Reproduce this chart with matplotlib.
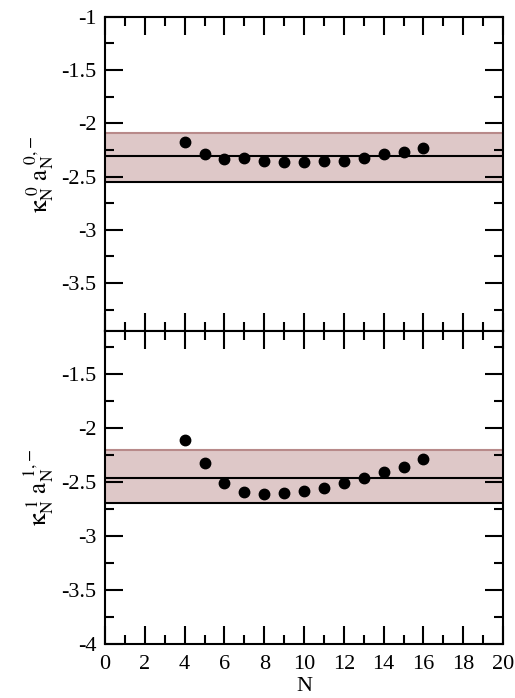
import matplotlib
matplotlib.use("Agg")
import matplotlib.pyplot as plt
from matplotlib.ticker import MultipleLocator, FormatStrFormatter

plt.rcParams['font.family'] = ['Liberation Serif', 'DejaVu Serif']
plt.rcParams['mathtext.fontset'] = 'stix'
plt.rcParams['axes.unicode_minus'] = False

# data
N = [4, 5, 6, 7, 8, 9, 10, 11, 12, 13, 14, 15, 16]
a0 = [-2.18, -2.29, -2.34, -2.33, -2.355, -2.365, -2.365, -2.357, -2.35, -2.33, -2.29, -2.266, -2.233]
a1 = [-2.107, -2.322, -2.504, -2.593, -2.612, -2.602, -2.58, -2.553, -2.51, -2.464, -2.408, -2.356, -2.289]

# fit value and error band
fit0, lo0, hi0 = -2.305, -2.555, -2.09
fit1, lo1, hi1 = -2.46, -2.695, -2.20

band_color = '#dec8c8'
edge_color = '#b88a8a'

fig = plt.figure(figsize=(5.15, 6.98), dpi=100)
ax0 = fig.add_axes([0.2039, 0.5258, 0.7728, 0.4503])
ax1 = fig.add_axes([0.2039, 0.0774, 0.7728, 0.4484])


def style(ax, ylim, show_x):
    ax.set_xlim(0, 20)
    ax.set_ylim(*ylim)
    ax.xaxis.set_major_locator(MultipleLocator(2))
    ax.xaxis.set_minor_locator(MultipleLocator(1))
    ax.yaxis.set_major_locator(MultipleLocator(0.5))
    ax.yaxis.set_minor_locator(MultipleLocator(0.25))
    ax.yaxis.set_major_formatter(FormatStrFormatter('%g'))
    ax.tick_params(which='both', direction='in', top=True, right=True, width=1.5)
    ax.tick_params(which='major', length=13, labelsize=16, pad=6)
    ax.tick_params(axis='x', which='major', pad=8)
    ax.tick_params(which='minor', length=6.5)
    if not show_x:
        ax.tick_params(axis='x', labelbottom=False)
    for s in ax.spines.values():
        s.set_linewidth(1.5)


def panel(ax, y, fit, lo, hi):
    ax.axhspan(lo, hi, facecolor=band_color, edgecolor='none', zorder=1)
    ax.axhline(hi, color=edge_color, lw=1.5, zorder=2)
    ax.axhline(lo, color='black', lw=1.5, zorder=2)
    ax.axhline(fit, color='black', lw=1.5, zorder=2)
    ax.plot(N, y, 'o', color='black', markersize=7.5, zorder=3)


panel(ax0, a0, fit0, lo0, hi0)
panel(ax1, a1, fit1, lo1, hi1)
style(ax0, (-3.95, -1), False)
style(ax1, (-4, -1.1), True)

ax0.set_ylabel(r'$\mathrm{\kappa}_\mathrm{N}^{\ 0}\ \mathrm{a}_\mathrm{N}^{\ 0,\!-}$', fontsize=18, labelpad=4)
ax1.set_ylabel(r'$\mathrm{\kappa}_\mathrm{N}^{\ 1}\ \mathrm{a}_\mathrm{N}^{\ 1,\!-}$', fontsize=18, labelpad=4)
ax1.set_xlabel('N', fontsize=16, labelpad=2)

fig.savefig('out.png', dpi=100)
